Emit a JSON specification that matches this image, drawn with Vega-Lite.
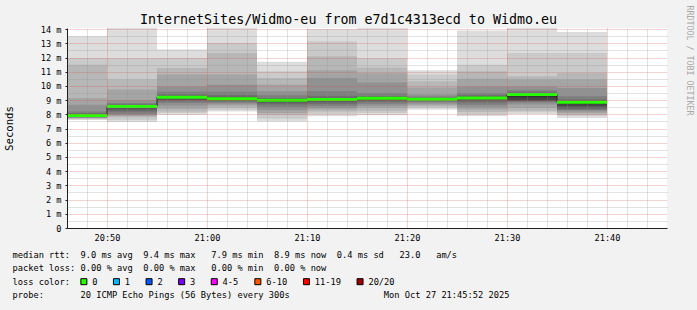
{
  "$schema": "https://vega.github.io/schema/vega-lite/v6.json",
  "width": 600,
  "height": 200,
  "autosize": {"type": "none"},
  "padding": {"left": 67, "top": 28, "right": 30, "bottom": 82},
  "background": "#f2f2f2",
  "view": {"fill": "#ffffff", "stroke": null},
  "title": {
    "text": "InternetSites/Widmo-eu from e7d1c4313ecd to Widmo.eu",
    "font": "DejaVu Sans Mono", "fontSize": 13.33, "fontWeight": "normal", "color": "#000000",
    "anchor": "middle", "frame": "group", "dx": -18.5, "offset": -32, "baseline": "alphabetic"
  },
  "config": {
    "axis": {"labelFont": "DejaVu Sans Mono", "titleFont": "DejaVu Sans Mono", "titleFontWeight": "normal", "labelColor": "#000000", "titleColor": "#000000"}
  },
  "datasets": {
    "steps": [
      {"start": "2025-10-27T20:45:00Z", "end": "2025-10-27T20:50:00Z", "median": 7.92, "prev": null, "loss": "0"},
      {"start": "2025-10-27T20:50:00Z", "end": "2025-10-27T20:55:00Z", "median": 8.56, "prev": 7.92, "loss": "0"},
      {"start": "2025-10-27T20:55:00Z", "end": "2025-10-27T21:00:00Z", "median": 9.20, "prev": 8.56, "loss": "0"},
      {"start": "2025-10-27T21:00:00Z", "end": "2025-10-27T21:05:00Z", "median": 9.10, "prev": 9.20, "loss": "0"},
      {"start": "2025-10-27T21:05:00Z", "end": "2025-10-27T21:10:00Z", "median": 8.99, "prev": 9.10, "loss": "0"},
      {"start": "2025-10-27T21:10:00Z", "end": "2025-10-27T21:15:00Z", "median": 9.04, "prev": 8.99, "loss": "0"},
      {"start": "2025-10-27T21:15:00Z", "end": "2025-10-27T21:20:00Z", "median": 9.13, "prev": 9.04, "loss": "0"},
      {"start": "2025-10-27T21:20:00Z", "end": "2025-10-27T21:25:00Z", "median": 9.06, "prev": 9.13, "loss": "0"},
      {"start": "2025-10-27T21:25:00Z", "end": "2025-10-27T21:30:00Z", "median": 9.15, "prev": 9.06, "loss": "0"},
      {"start": "2025-10-27T21:30:00Z", "end": "2025-10-27T21:35:00Z", "median": 9.39, "prev": 9.15, "loss": "0"},
      {"start": "2025-10-27T21:35:00Z", "end": "2025-10-27T21:40:00Z", "median": 8.85, "prev": 9.39, "loss": "0"}
    ],
    "losscolors": [
      {"loss": "0"}, {"loss": "1"}, {"loss": "2"}, {"loss": "3"}, {"loss": "4-5"}, {"loss": "6-10"}, {"loss": "11-19"}, {"loss": "20/20"}
    ],
    "smoke": [
      {"start": "2025-10-27T20:45:00Z", "end": "2025-10-27T20:50:00Z", "layer": 1, "lo": 7.60, "hi": 13.5},
      {"start": "2025-10-27T20:45:00Z", "end": "2025-10-27T20:50:00Z", "layer": 2, "lo": 7.66, "hi": 11.97},
      {"start": "2025-10-27T20:45:00Z", "end": "2025-10-27T20:50:00Z", "layer": 3, "lo": 7.70, "hi": 11.5},
      {"start": "2025-10-27T20:45:00Z", "end": "2025-10-27T20:50:00Z", "layer": 4, "lo": 7.74, "hi": 9.15},
      {"start": "2025-10-27T20:45:00Z", "end": "2025-10-27T20:50:00Z", "layer": 5, "lo": 7.77, "hi": 8.68},
      {"start": "2025-10-27T20:45:00Z", "end": "2025-10-27T20:50:00Z", "layer": 6, "lo": 7.80, "hi": 8.2},
      {"start": "2025-10-27T20:45:00Z", "end": "2025-10-27T20:50:00Z", "layer": 7, "lo": 7.83, "hi": 8.08},
      {"start": "2025-10-27T20:45:00Z", "end": "2025-10-27T20:50:00Z", "layer": 8, "lo": 7.86, "hi": 8.02},
      {"start": "2025-10-27T20:45:00Z", "end": "2025-10-27T20:50:00Z", "layer": 9, "lo": 7.88, "hi": 7.98},
      {"start": "2025-10-27T20:45:00Z", "end": "2025-10-27T20:50:00Z", "layer": 10, "lo": 7.90, "hi": 7.95},
      {"start": "2025-10-27T20:50:00Z", "end": "2025-10-27T20:55:00Z", "layer": 1, "lo": 7.46, "hi": 14.5},
      {"start": "2025-10-27T20:50:00Z", "end": "2025-10-27T20:55:00Z", "layer": 2, "lo": 7.60, "hi": 11.95},
      {"start": "2025-10-27T20:50:00Z", "end": "2025-10-27T20:55:00Z", "layer": 3, "lo": 7.80, "hi": 10.45},
      {"start": "2025-10-27T20:50:00Z", "end": "2025-10-27T20:55:00Z", "layer": 4, "lo": 7.88, "hi": 9.75},
      {"start": "2025-10-27T20:50:00Z", "end": "2025-10-27T20:55:00Z", "layer": 5, "lo": 7.95, "hi": 9.0},
      {"start": "2025-10-27T20:50:00Z", "end": "2025-10-27T20:55:00Z", "layer": 6, "lo": 8.05, "hi": 8.8},
      {"start": "2025-10-27T20:50:00Z", "end": "2025-10-27T20:55:00Z", "layer": 7, "lo": 8.20, "hi": 8.7},
      {"start": "2025-10-27T20:50:00Z", "end": "2025-10-27T20:55:00Z", "layer": 8, "lo": 8.35, "hi": 8.64},
      {"start": "2025-10-27T20:50:00Z", "end": "2025-10-27T20:55:00Z", "layer": 9, "lo": 8.45, "hi": 8.6},
      {"start": "2025-10-27T20:50:00Z", "end": "2025-10-27T20:55:00Z", "layer": 10, "lo": 8.52, "hi": 8.58},
      {"start": "2025-10-27T20:55:00Z", "end": "2025-10-27T21:00:00Z", "layer": 1, "lo": 7.98, "hi": 12.56},
      {"start": "2025-10-27T20:55:00Z", "end": "2025-10-27T21:00:00Z", "layer": 2, "lo": 8.10, "hi": 11.96},
      {"start": "2025-10-27T20:55:00Z", "end": "2025-10-27T21:00:00Z", "layer": 3, "lo": 8.21, "hi": 11.27},
      {"start": "2025-10-27T20:55:00Z", "end": "2025-10-27T21:00:00Z", "layer": 4, "lo": 8.40, "hi": 10.8},
      {"start": "2025-10-27T20:55:00Z", "end": "2025-10-27T21:00:00Z", "layer": 5, "lo": 8.60, "hi": 9.97},
      {"start": "2025-10-27T20:55:00Z", "end": "2025-10-27T21:00:00Z", "layer": 6, "lo": 8.80, "hi": 9.6},
      {"start": "2025-10-27T20:55:00Z", "end": "2025-10-27T21:00:00Z", "layer": 7, "lo": 8.92, "hi": 9.4},
      {"start": "2025-10-27T20:55:00Z", "end": "2025-10-27T21:00:00Z", "layer": 8, "lo": 9.02, "hi": 9.3},
      {"start": "2025-10-27T20:55:00Z", "end": "2025-10-27T21:00:00Z", "layer": 9, "lo": 9.10, "hi": 9.25},
      {"start": "2025-10-27T20:55:00Z", "end": "2025-10-27T21:00:00Z", "layer": 10, "lo": 9.15, "hi": 9.22},
      {"start": "2025-10-27T21:00:00Z", "end": "2025-10-27T21:05:00Z", "layer": 1, "lo": 8.20, "hi": 14.5},
      {"start": "2025-10-27T21:00:00Z", "end": "2025-10-27T21:05:00Z", "layer": 2, "lo": 8.30, "hi": 13.03},
      {"start": "2025-10-27T21:00:00Z", "end": "2025-10-27T21:05:00Z", "layer": 3, "lo": 8.45, "hi": 12.32},
      {"start": "2025-10-27T21:00:00Z", "end": "2025-10-27T21:05:00Z", "layer": 4, "lo": 8.60, "hi": 10.8},
      {"start": "2025-10-27T21:00:00Z", "end": "2025-10-27T21:05:00Z", "layer": 5, "lo": 8.72, "hi": 10.09},
      {"start": "2025-10-27T21:00:00Z", "end": "2025-10-27T21:05:00Z", "layer": 6, "lo": 8.82, "hi": 9.6},
      {"start": "2025-10-27T21:00:00Z", "end": "2025-10-27T21:05:00Z", "layer": 7, "lo": 8.90, "hi": 9.35},
      {"start": "2025-10-27T21:00:00Z", "end": "2025-10-27T21:05:00Z", "layer": 8, "lo": 8.97, "hi": 9.22},
      {"start": "2025-10-27T21:00:00Z", "end": "2025-10-27T21:05:00Z", "layer": 9, "lo": 9.03, "hi": 9.16},
      {"start": "2025-10-27T21:00:00Z", "end": "2025-10-27T21:05:00Z", "layer": 10, "lo": 9.07, "hi": 9.13},
      {"start": "2025-10-27T21:05:00Z", "end": "2025-10-27T21:10:00Z", "layer": 1, "lo": 7.50, "hi": 11.7},
      {"start": "2025-10-27T21:05:00Z", "end": "2025-10-27T21:10:00Z", "layer": 2, "lo": 7.70, "hi": 11.03},
      {"start": "2025-10-27T21:05:00Z", "end": "2025-10-27T21:10:00Z", "layer": 3, "lo": 7.98, "hi": 10.56},
      {"start": "2025-10-27T21:05:00Z", "end": "2025-10-27T21:10:00Z", "layer": 4, "lo": 8.10, "hi": 10.1},
      {"start": "2025-10-27T21:05:00Z", "end": "2025-10-27T21:10:00Z", "layer": 5, "lo": 8.30, "hi": 9.62},
      {"start": "2025-10-27T21:05:00Z", "end": "2025-10-27T21:10:00Z", "layer": 6, "lo": 8.50, "hi": 9.35},
      {"start": "2025-10-27T21:05:00Z", "end": "2025-10-27T21:10:00Z", "layer": 7, "lo": 8.70, "hi": 9.15},
      {"start": "2025-10-27T21:05:00Z", "end": "2025-10-27T21:10:00Z", "layer": 8, "lo": 8.82, "hi": 9.08},
      {"start": "2025-10-27T21:05:00Z", "end": "2025-10-27T21:10:00Z", "layer": 9, "lo": 8.90, "hi": 9.04},
      {"start": "2025-10-27T21:05:00Z", "end": "2025-10-27T21:10:00Z", "layer": 10, "lo": 8.95, "hi": 9.02},
      {"start": "2025-10-27T21:10:00Z", "end": "2025-10-27T21:15:00Z", "layer": 1, "lo": 7.86, "hi": 14.0},
      {"start": "2025-10-27T21:10:00Z", "end": "2025-10-27T21:15:00Z", "layer": 2, "lo": 8.05, "hi": 13.14},
      {"start": "2025-10-27T21:10:00Z", "end": "2025-10-27T21:15:00Z", "layer": 3, "lo": 8.20, "hi": 12.1},
      {"start": "2025-10-27T21:10:00Z", "end": "2025-10-27T21:15:00Z", "layer": 4, "lo": 8.35, "hi": 11.1},
      {"start": "2025-10-27T21:10:00Z", "end": "2025-10-27T21:15:00Z", "layer": 5, "lo": 8.45, "hi": 10.56},
      {"start": "2025-10-27T21:10:00Z", "end": "2025-10-27T21:15:00Z", "layer": 6, "lo": 8.60, "hi": 9.62},
      {"start": "2025-10-27T21:10:00Z", "end": "2025-10-27T21:15:00Z", "layer": 7, "lo": 8.75, "hi": 9.27},
      {"start": "2025-10-27T21:10:00Z", "end": "2025-10-27T21:15:00Z", "layer": 8, "lo": 8.88, "hi": 9.15},
      {"start": "2025-10-27T21:10:00Z", "end": "2025-10-27T21:15:00Z", "layer": 9, "lo": 8.96, "hi": 9.1},
      {"start": "2025-10-27T21:10:00Z", "end": "2025-10-27T21:15:00Z", "layer": 10, "lo": 9.00, "hi": 9.07},
      {"start": "2025-10-27T21:15:00Z", "end": "2025-10-27T21:20:00Z", "layer": 1, "lo": 7.93, "hi": 14.5},
      {"start": "2025-10-27T21:15:00Z", "end": "2025-10-27T21:20:00Z", "layer": 2, "lo": 8.10, "hi": 11.95},
      {"start": "2025-10-27T21:15:00Z", "end": "2025-10-27T21:20:00Z", "layer": 3, "lo": 8.25, "hi": 11.3},
      {"start": "2025-10-27T21:15:00Z", "end": "2025-10-27T21:20:00Z", "layer": 4, "lo": 8.45, "hi": 10.9},
      {"start": "2025-10-27T21:15:00Z", "end": "2025-10-27T21:20:00Z", "layer": 5, "lo": 8.60, "hi": 10.25},
      {"start": "2025-10-27T21:15:00Z", "end": "2025-10-27T21:20:00Z", "layer": 6, "lo": 8.75, "hi": 9.5},
      {"start": "2025-10-27T21:15:00Z", "end": "2025-10-27T21:20:00Z", "layer": 7, "lo": 8.88, "hi": 9.3},
      {"start": "2025-10-27T21:15:00Z", "end": "2025-10-27T21:20:00Z", "layer": 8, "lo": 8.98, "hi": 9.22},
      {"start": "2025-10-27T21:15:00Z", "end": "2025-10-27T21:20:00Z", "layer": 9, "lo": 9.05, "hi": 9.18},
      {"start": "2025-10-27T21:15:00Z", "end": "2025-10-27T21:20:00Z", "layer": 10, "lo": 9.10, "hi": 9.16},
      {"start": "2025-10-27T21:20:00Z", "end": "2025-10-27T21:25:00Z", "layer": 1, "lo": 8.33, "hi": 11.1},
      {"start": "2025-10-27T21:20:00Z", "end": "2025-10-27T21:25:00Z", "layer": 2, "lo": 8.45, "hi": 10.8},
      {"start": "2025-10-27T21:20:00Z", "end": "2025-10-27T21:25:00Z", "layer": 3, "lo": 8.55, "hi": 10.33},
      {"start": "2025-10-27T21:20:00Z", "end": "2025-10-27T21:25:00Z", "layer": 4, "lo": 8.65, "hi": 9.9},
      {"start": "2025-10-27T21:20:00Z", "end": "2025-10-27T21:25:00Z", "layer": 5, "lo": 8.75, "hi": 9.39},
      {"start": "2025-10-27T21:20:00Z", "end": "2025-10-27T21:25:00Z", "layer": 6, "lo": 8.85, "hi": 9.25},
      {"start": "2025-10-27T21:20:00Z", "end": "2025-10-27T21:25:00Z", "layer": 7, "lo": 8.92, "hi": 9.16},
      {"start": "2025-10-27T21:20:00Z", "end": "2025-10-27T21:25:00Z", "layer": 8, "lo": 8.97, "hi": 9.11},
      {"start": "2025-10-27T21:20:00Z", "end": "2025-10-27T21:25:00Z", "layer": 9, "lo": 9.01, "hi": 9.09},
      {"start": "2025-10-27T21:20:00Z", "end": "2025-10-27T21:25:00Z", "layer": 10, "lo": 9.03, "hi": 9.08},
      {"start": "2025-10-27T21:25:00Z", "end": "2025-10-27T21:30:00Z", "layer": 1, "lo": 7.86, "hi": 13.9},
      {"start": "2025-10-27T21:25:00Z", "end": "2025-10-27T21:30:00Z", "layer": 2, "lo": 8.00, "hi": 11.5},
      {"start": "2025-10-27T21:25:00Z", "end": "2025-10-27T21:30:00Z", "layer": 3, "lo": 8.17, "hi": 11.03},
      {"start": "2025-10-27T21:25:00Z", "end": "2025-10-27T21:30:00Z", "layer": 4, "lo": 8.35, "hi": 10.5},
      {"start": "2025-10-27T21:25:00Z", "end": "2025-10-27T21:30:00Z", "layer": 5, "lo": 8.50, "hi": 9.97},
      {"start": "2025-10-27T21:25:00Z", "end": "2025-10-27T21:30:00Z", "layer": 6, "lo": 8.68, "hi": 9.5},
      {"start": "2025-10-27T21:25:00Z", "end": "2025-10-27T21:30:00Z", "layer": 7, "lo": 8.85, "hi": 9.35},
      {"start": "2025-10-27T21:25:00Z", "end": "2025-10-27T21:30:00Z", "layer": 8, "lo": 8.97, "hi": 9.25},
      {"start": "2025-10-27T21:25:00Z", "end": "2025-10-27T21:30:00Z", "layer": 9, "lo": 9.05, "hi": 9.2},
      {"start": "2025-10-27T21:25:00Z", "end": "2025-10-27T21:30:00Z", "layer": 10, "lo": 9.10, "hi": 9.18},
      {"start": "2025-10-27T21:30:00Z", "end": "2025-10-27T21:35:00Z", "layer": 1, "lo": 8.00, "hi": 14.5},
      {"start": "2025-10-27T21:30:00Z", "end": "2025-10-27T21:35:00Z", "layer": 2, "lo": 8.15, "hi": 12.32},
      {"start": "2025-10-27T21:30:00Z", "end": "2025-10-27T21:35:00Z", "layer": 3, "lo": 8.25, "hi": 10.68},
      {"start": "2025-10-27T21:30:00Z", "end": "2025-10-27T21:35:00Z", "layer": 4, "lo": 8.45, "hi": 10.45},
      {"start": "2025-10-27T21:30:00Z", "end": "2025-10-27T21:35:00Z", "layer": 5, "lo": 8.70, "hi": 9.97},
      {"start": "2025-10-27T21:30:00Z", "end": "2025-10-27T21:35:00Z", "layer": 6, "lo": 8.85, "hi": 9.7},
      {"start": "2025-10-27T21:30:00Z", "end": "2025-10-27T21:35:00Z", "layer": 7, "lo": 8.90, "hi": 9.55},
      {"start": "2025-10-27T21:30:00Z", "end": "2025-10-27T21:35:00Z", "layer": 8, "lo": 8.95, "hi": 9.47},
      {"start": "2025-10-27T21:30:00Z", "end": "2025-10-27T21:35:00Z", "layer": 9, "lo": 9.00, "hi": 9.43},
      {"start": "2025-10-27T21:30:00Z", "end": "2025-10-27T21:35:00Z", "layer": 10, "lo": 9.20, "hi": 9.41},
      {"start": "2025-10-27T21:35:00Z", "end": "2025-10-27T21:40:00Z", "layer": 1, "lo": 7.74, "hi": 13.8},
      {"start": "2025-10-27T21:35:00Z", "end": "2025-10-27T21:40:00Z", "layer": 2, "lo": 7.90, "hi": 12.32},
      {"start": "2025-10-27T21:35:00Z", "end": "2025-10-27T21:40:00Z", "layer": 3, "lo": 7.98, "hi": 10.92},
      {"start": "2025-10-27T21:35:00Z", "end": "2025-10-27T21:40:00Z", "layer": 4, "lo": 8.10, "hi": 10.45},
      {"start": "2025-10-27T21:35:00Z", "end": "2025-10-27T21:40:00Z", "layer": 5, "lo": 8.20, "hi": 9.86},
      {"start": "2025-10-27T21:35:00Z", "end": "2025-10-27T21:40:00Z", "layer": 6, "lo": 8.30, "hi": 9.27},
      {"start": "2025-10-27T21:35:00Z", "end": "2025-10-27T21:40:00Z", "layer": 7, "lo": 8.35, "hi": 9.05},
      {"start": "2025-10-27T21:35:00Z", "end": "2025-10-27T21:40:00Z", "layer": 8, "lo": 8.45, "hi": 8.95},
      {"start": "2025-10-27T21:35:00Z", "end": "2025-10-27T21:40:00Z", "layer": 9, "lo": 8.60, "hi": 8.9},
      {"start": "2025-10-27T21:35:00Z", "end": "2025-10-27T21:40:00Z", "layer": 10, "lo": 8.75, "hi": 8.87}
    ]
  },
  "layer": [
    {
      "data": {"name": "smoke"},
      "mark": {"type": "rect", "clip": true, "strokeWidth": 0},
      "encoding": {
        "x": {
          "field": "start", "type": "temporal",
          "scale": {"type": "utc", "domain": [{"year": 2025, "month": 10, "date": 27, "hours": 20, "minutes": 46, "utc": true}, {"year": 2025, "month": 10, "date": 27, "hours": 21, "minutes": 46, "utc": true}]},
          "axis": {
            "orient": "bottom",
            "values": [
              {"year": 2025, "month": 10, "date": 27, "hours": 20, "minutes": 50, "utc": true},
              {"year": 2025, "month": 10, "date": 27, "hours": 21, "minutes": 0, "utc": true},
              {"year": 2025, "month": 10, "date": 27, "hours": 21, "minutes": 10, "utc": true},
              {"year": 2025, "month": 10, "date": 27, "hours": 21, "minutes": 20, "utc": true},
              {"year": 2025, "month": 10, "date": 27, "hours": 21, "minutes": 30, "utc": true},
              {"year": 2025, "month": 10, "date": 27, "hours": 21, "minutes": 40, "utc": true}
            ],
            "format": "%H:%M",
            "grid": true, "gridColor": "#de4f4f", "gridOpacity": 0.5, "gridDash": [1, 1], "gridWidth": 1,
            "domain": true, "domainColor": "#1f1f1f", "domainWidth": 1,
            "ticks": false, "labelFontSize": 8.6, "labelPadding": 5, "labelFlush": false, "labelOverlap": false,
            "title": [
              "median rtt:\u00a0\u00a09.0 ms avg\u00a0\u00a09.4 ms max\u00a0\u00a0\u00a07.9 ms min\u00a0\u00a08.9 ms now\u00a0\u00a00.4 ms sd\u00a0\u00a0\u00a023.0\u00a0\u00a0\u00a0am/s",
              "packet loss: 0.00 % avg\u00a0\u00a00.00 % max\u00a0\u00a0\u00a00.00 % min\u00a0\u00a00.00 % now",
              "loss color:",
              "probe:\u00a0\u00a0\u00a0\u00a0\u00a0\u00a0\u00a020 ICMP Echo Pings (56 Bytes) every 300s\u00a0\u00a0\u00a0\u00a0\u00a0\u00a0\u00a0\u00a0\u00a0\u00a0\u00a0\u00a0\u00a0\u00a0\u00a0\u00a0\u00a0\u00a0Mon Oct 27 21:45:52 2025"
            ],
            "titleFontSize": 8.7, "titleX": -55, "titleY": 29, "titleAlign": "left", "titleAnchor": "start",
            "titleBaseline": "alphabetic", "titleLineHeight": 13.6,
            "zindex": 2
          }
        },
        "x2": {"field": "end"},
        "y": {
          "field": "lo", "type": "quantitative",
          "scale": {"domain": [0, 14.08], "nice": false},
          "axis": {
            "orient": "left", "values": [0, 1, 2, 3, 4, 5, 6, 7, 8, 9, 10, 11, 12, 13, 14],
            "labelExpr": "datum.value == 0 ? '0' : datum.value + ' m'",
            "grid": true, "gridColor": "#de4f4f", "gridOpacity": 0.5, "gridDash": [1, 1],
            "domainColor": "#1f1f1f", "ticks": true, "tickSize": 2, "tickColor": "#1f1f1f",
            "labelFontSize": 8.6, "labelPadding": 4,
            "title": "Seconds", "titleFontSize": 10.67, "titleX": -57.5, "titleY": 100, "titleAngle": 270,
            "titleAlign": "center", "titleBaseline": "middle",
            "zindex": 2
          }
        },
        "y2": {"field": "hi"},
        "color": {
          "field": "layer", "type": "ordinal",
          "scale": {"domain": [1, 2, 3, 4, 5, 6, 7, 8, 9, 10], "range": ["#dddddd", "#cacaca", "#b7b7b7", "#a4a4a4", "#919191", "#7e7e7e", "#6b6b6b", "#585858", "#454545", "#323232"]},
          "legend": null
        }
      }
    },
    {
      "data": {"name": "steps"},
      "mark": {"type": "rule", "color": "#1f1f1f", "strokeWidth": 1, "clip": true},
      "encoding": {
        "x": {
          "field": "start", "type": "temporal",
          "scale": {"type": "utc", "domain": [{"year": 2025, "month": 10, "date": 27, "hours": 20, "minutes": 46, "utc": true}, {"year": 2025, "month": 10, "date": 27, "hours": 21, "minutes": 46, "utc": true}]},
          "axis": null
        },
        "y": {"field": "prev", "type": "quantitative", "scale": {"domain": [0, 14.08], "nice": false}, "axis": null},
        "y2": {"field": "median"}
      }
    },
    {
      "data": {"name": "steps"},
      "mark": {"type": "rule", "strokeWidth": 3, "strokeCap": "butt", "clip": true},
      "encoding": {
        "x": {
          "field": "start", "type": "temporal",
          "scale": {"type": "utc", "domain": [{"year": 2025, "month": 10, "date": 27, "hours": 20, "minutes": 46, "utc": true}, {"year": 2025, "month": 10, "date": 27, "hours": 21, "minutes": 46, "utc": true}]},
          "axis": {
            "orient": "top",
            "values": [
              {"year": 2025, "month": 10, "date": 27, "hours": 20, "minutes": 48, "utc": true},
              {"year": 2025, "month": 10, "date": 27, "hours": 20, "minutes": 52, "utc": true},
              {"year": 2025, "month": 10, "date": 27, "hours": 20, "minutes": 54, "utc": true},
              {"year": 2025, "month": 10, "date": 27, "hours": 20, "minutes": 56, "utc": true},
              {"year": 2025, "month": 10, "date": 27, "hours": 20, "minutes": 58, "utc": true},
              {"year": 2025, "month": 10, "date": 27, "hours": 21, "minutes": 2, "utc": true},
              {"year": 2025, "month": 10, "date": 27, "hours": 21, "minutes": 4, "utc": true},
              {"year": 2025, "month": 10, "date": 27, "hours": 21, "minutes": 6, "utc": true},
              {"year": 2025, "month": 10, "date": 27, "hours": 21, "minutes": 8, "utc": true},
              {"year": 2025, "month": 10, "date": 27, "hours": 21, "minutes": 12, "utc": true},
              {"year": 2025, "month": 10, "date": 27, "hours": 21, "minutes": 14, "utc": true},
              {"year": 2025, "month": 10, "date": 27, "hours": 21, "minutes": 16, "utc": true},
              {"year": 2025, "month": 10, "date": 27, "hours": 21, "minutes": 18, "utc": true},
              {"year": 2025, "month": 10, "date": 27, "hours": 21, "minutes": 22, "utc": true},
              {"year": 2025, "month": 10, "date": 27, "hours": 21, "minutes": 24, "utc": true},
              {"year": 2025, "month": 10, "date": 27, "hours": 21, "minutes": 26, "utc": true},
              {"year": 2025, "month": 10, "date": 27, "hours": 21, "minutes": 28, "utc": true},
              {"year": 2025, "month": 10, "date": 27, "hours": 21, "minutes": 32, "utc": true},
              {"year": 2025, "month": 10, "date": 27, "hours": 21, "minutes": 34, "utc": true},
              {"year": 2025, "month": 10, "date": 27, "hours": 21, "minutes": 36, "utc": true},
              {"year": 2025, "month": 10, "date": 27, "hours": 21, "minutes": 38, "utc": true},
              {"year": 2025, "month": 10, "date": 27, "hours": 21, "minutes": 42, "utc": true},
              {"year": 2025, "month": 10, "date": 27, "hours": 21, "minutes": 44, "utc": true}
            ],
            "grid": true, "gridColor": "#8f8f8f", "gridOpacity": 0.5, "gridDash": [1, 1],
            "domain": false, "ticks": false, "labels": false, "title": null, "zindex": 1
          }
        },
        "x2": {"field": "end"},
        "y": {
          "field": "median", "type": "quantitative",
          "scale": {"domain": [0, 14.08], "nice": false},
          "axis": {
            "orient": "right",
            "values": [0.5, 1.5, 2.5, 3.5, 4.5, 5.5, 6.5, 7.5, 8.5, 9.5, 10.5, 11.5, 12.5, 13.5],
            "grid": true, "gridColor": "#8f8f8f", "gridOpacity": 0.5, "gridDash": [1, 1],
            "domain": false, "ticks": false, "labels": false,
            "title": "RRDTOOL / TOBI OETIKER", "titleFontSize": 8.3, "titleColor": "#a8a8a8",
            "titleAngle": 90, "titleX": 21.3, "titleY": -23, "titleAlign": "left", "titleBaseline": "middle",
            "zindex": 1
          }
        },
        "stroke": {
          "field": "loss", "type": "nominal",
          "scale": {"domain": ["0"], "range": ["#26ff00"]},
          "legend": null
        }
      }
    },
    {
      "data": {"name": "losscolors"},
      "mark": {"type": "square", "size": 0, "filled": true},
      "encoding": {
        "fill": {
          "field": "loss", "type": "nominal",
          "scale": {"domain": ["0", "1", "2", "3", "4-5", "6-10", "11-19", "20/20"], "range": ["#26ff00", "#00b8ff", "#0059ff", "#7e00ff", "#ff00ff", "#ff5500", "#ff0000", "#a00000"]},
          "legend": {
            "title": null, "orient": "none", "legendX": 12.5, "legendY": 249,
            "direction": "horizontal",
            "labelFont": "DejaVu Sans Mono", "labelFontSize": 8.7, "labelColor": "#000000", "labelOffset": 4,
            "symbolType": "square", "symbolSize": 36, "symbolStrokeWidth": 1, "symbolStrokeColor": "#000000", "symbolOpacity": 1,
            "columnPadding": 13.6
          }
        }
      }
    }
  ],
  "resolve": {"axis": {"x": "independent", "y": "independent"}}
}
